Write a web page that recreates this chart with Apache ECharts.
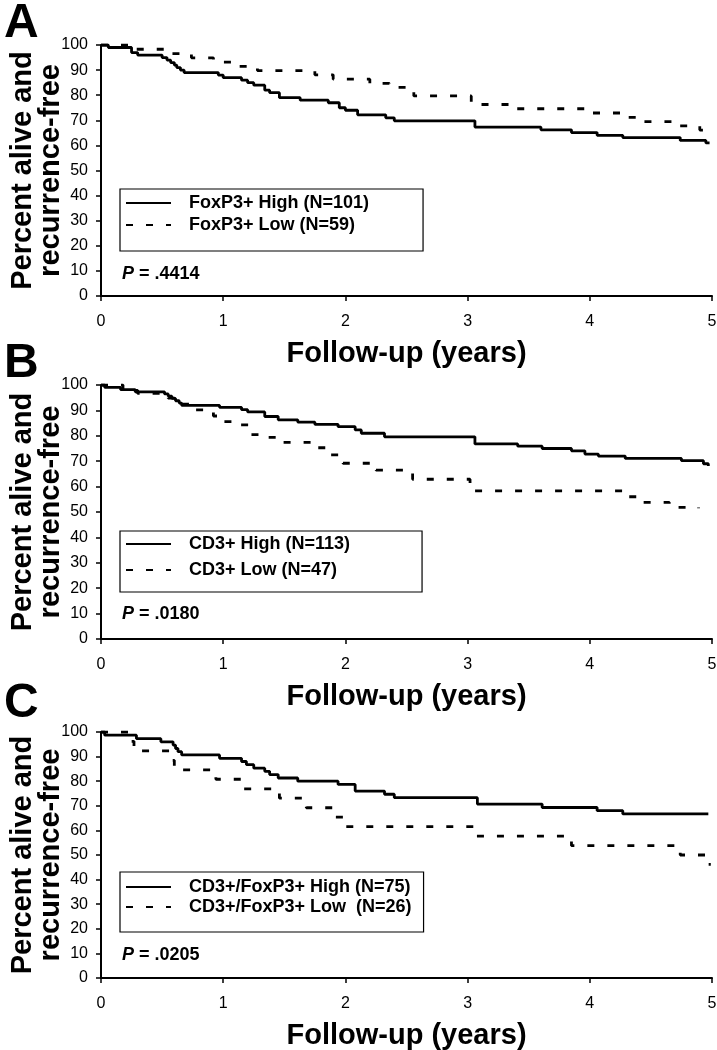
<!DOCTYPE html>
<html><head><meta charset="utf-8">
<script src="https://cdn.jsdelivr.net/npm/echarts@6/dist/echarts.min.js"></script>
<style>html,body{margin:0;padding:0;background:#fff}#c{width:717px;height:1050px}</style>
</head><body><div id="c"></div>
<script>
// ---- Data (years, percent alive and recurrence-free) ----
const xTickLabels = ['0','1','2','3','4','5'];
const yTickLabels = ['0','10','20','30','40','50','60','70','80','90','100'];

const aHighT = [0,0.06,0.25,0.30,0.50,0.54,0.57,0.60,0.62,0.65,0.68,0.96,1.00,1.15,1.20,1.25,1.34,1.38,1.46,1.63,1.86,1.95,2.00,2.10,2.33,2.40,3.06,3.60,3.85,4.06,4.27,4.74,4.95,4.98];
const aHighS = [100,99,97,96,95,94,93,92,91,90,89,88,87,86,85,84,82,81,79,78,77,75,74,72.2,71,69.8,67.3,66.2,65.1,64,63.1,62,61,60.8];
const aLowT  = [0,0.25,0.56,0.74,0.92,1.10,1.28,1.75,1.90,2.20,2.36,2.56,3.03,3.39,3.98,4.29,4.43,4.72,4.90,4.95];
const aLowS  = [100,98.3,96.6,94.9,93.2,91.5,89.8,88.1,86.4,84.7,83.1,79.7,76.3,74.6,72.9,71.2,69.5,67.8,66.1,65.5];

const bHighT = [0,0.03,0.16,0.28,0.52,0.55,0.58,0.61,0.64,0.66,0.97,1.15,1.20,1.34,1.45,1.61,1.75,1.94,2.08,2.13,2.32,3.06,3.41,3.61,3.85,3.96,4.07,4.29,4.75,4.93,4.97];
const bHighS = [100,99.1,98.2,97.3,96.5,95.6,94.7,93.8,92.9,92.0,91.2,90.3,89.4,87.6,86.3,85.4,84.5,83.6,82.3,81.0,79.6,76.8,75.9,75.0,74.1,72.8,72.0,71.1,70.2,69.0,68.1];
const bLowT  = [0,0.18,0.30,0.55,0.63,0.72,0.92,0.98,1.12,1.23,1.30,1.45,1.72,1.87,1.98,2.25,2.55,3.02,4.27,4.42,4.65,4.89];
const bLowS  = [100,97.9,96.7,94.8,92.5,90.2,87.8,85.6,84.3,80.5,79.4,77.4,75.3,72.5,69.2,66.5,62.9,58.3,56.0,53.8,51.8,51.5];

const cHighT = [0,0.03,0.29,0.49,0.59,0.61,0.63,0.66,0.97,1.15,1.19,1.25,1.34,1.38,1.45,1.61,1.94,2.08,2.32,2.40,3.08,3.61,4.06,4.27,4.97];
const cHighS = [100,98.7,97.3,96.0,94.7,93.3,92.0,90.7,89.3,88.0,86.7,85.3,84.0,82.7,81.3,80.0,78.7,76.0,74.7,73.3,70.7,69.3,68.0,66.7,66.7];
const cLowT  = [0,0.24,0.27,0.57,0.60,0.94,1.16,1.46,1.68,1.92,2.00,3.06,3.85,4.74,4.96,4.99];
const cLowS  = [100,96.2,92.3,88.5,84.6,80.8,76.9,73.1,69.2,65.4,61.5,57.7,53.8,50.0,46.2,46.2];

const panelLetters = ['A','B','C'];
const highNames = ['FoxP3+ High (N=101)','CD3+ High (N=113)','CD3+/FoxP3+ High (N=75)'];
const lowNames  = ['FoxP3+ Low (N=59)','CD3+ Low (N=47)','CD3+/FoxP3+ Low  (N=26)'];
const pValues   = ['.4414','.0180','.0205'];
const xTitle = 'Follow-up (years)';
const yTitle = 'Percent alive and\nrecurrence-free';

// ---- Layout ----
const FONT = '"Liberation Sans", Arial, Helvetica, sans-serif';
const grids = [
  {left:101, top:45,  width:611, height:251},
  {left:101, top:385, width:611, height:254},
  {left:101, top:732, width:611, height:246}
];
const letterTops = [0, 340, 680];
const pTops = [265, 605, 946];
const legendCfg = [
  {top:189, pad:[5,54,17,5], gap:4},
  {top:531, pad:[4,72,13,5], gap:8},
  {top:872, pad:[6,12,16,5], gap:2}
];
const highT=[aHighT,bHighT,cHighT], highS=[aHighS,bHighS,cHighS];
const lowT=[aLowT,bLowT,cLowT], lowS=[aLowS,bLowS,cLowS];
const zip=(t,s)=>t.map((v,i)=>[v,s[i]]);

const chart = echarts.init(document.getElementById('c'), null, {renderer:'canvas'});
const option = {
  backgroundColor:'#fff',
  animation:false,
  textStyle:{fontFamily:FONT, color:'#000'},
  grid: grids.map(g=>Object.assign({containLabel:false, outerBoundsMode:'none'}, g)),
  title: [],
  legend: [],
  xAxis: [], yAxis: [], series: []
};
for (let p=0;p<3;p++){
  option.xAxis.push({
    gridIndex:p, type:'value', min:0, max:5, interval:1,
    name:xTitle, nameLocation:'middle', nameGap:43, nameMoveOverlap:false,
    nameTextStyle:{fontSize:29, fontWeight:'bold', color:'#000', fontFamily:FONT},
    axisLine:{show:true, onZero:false, lineStyle:{color:'#000', width:2}},
    axisTick:{show:true, length:5, lineStyle:{color:'#000', width:1.5}},
    axisLabel:{fontSize:16, color:'#000', margin:18, fontFamily:FONT,
      formatter:(v)=>xTickLabels[Math.round(v)]},
    splitLine:{show:false}
  });
  option.yAxis.push({
    gridIndex:p, type:'value', min:0, max:100, interval:10,
    name:yTitle, nameLocation:'middle', nameGap:36, nameRotate:90, nameMoveOverlap:false,
    nameTextStyle:{fontSize:29, fontWeight:'bold', color:'#000', lineHeight:28, fontFamily:FONT},
    axisLine:{show:true, lineStyle:{color:'#000', width:2}},
    axisTick:{show:true, length:5, lineStyle:{color:'#000', width:1.5}},
    axisLabel:{fontSize:16, color:'#000', margin:13, fontFamily:FONT,
      formatter:(v)=>yTickLabels[Math.round(v/10)]},
    splitLine:{show:false}
  });
  option.series.push({
    name:highNames[p], type:'line', xAxisIndex:p, yAxisIndex:p, step:'end',
    symbol:'none', showSymbol:false, data:zip(highT[p],highS[p]),
    lineStyle:{color:'#000', width:2.8, type:'solid'}, itemStyle:{color:'#000'}
  });
  option.series.push({
    name:lowNames[p], type:'line', xAxisIndex:p, yAxisIndex:p, step:'end',
    symbol:'none', showSymbol:false, data:zip(lowT[p],lowS[p]),
    lineStyle:{color:'#000', width:2.8, type:[7,13]}, itemStyle:{color:'#000'}
  });
  const lc = legendCfg[p];
  option.legend.push({
    data:[highNames[p], lowNames[p]], orient:'vertical', left:120, top:lc.top,
    padding:lc.pad, itemGap:lc.gap, itemWidth:45, itemHeight:14,
    borderColor:'#000', borderWidth:1.2, backgroundColor:'#fff',
    selectedMode:false,
    itemStyle:{color:'rgba(0,0,0,0)', borderColor:'rgba(0,0,0,0)', borderWidth:0, opacity:0},
    textStyle:{fontSize:18, fontWeight:'bold', color:'#000', fontFamily:FONT, padding:[0,0,0,13]}
  });
  option.title.push({
    text:panelLetters[p], left:4, top:letterTops[p], padding:0,
    textStyle:{fontSize:48, fontWeight:'bold', color:'#000', fontFamily:FONT}
  });
  option.title.push({
    text:'{i|P} = ' + pValues[p], left:122, top:pTops[p], padding:0,
    textStyle:{fontSize:18, fontWeight:'bold', color:'#000', fontFamily:FONT,
      rich:{i:{fontSize:18, fontWeight:'bold', fontStyle:'italic', color:'#000', fontFamily:FONT}}}
  });
}
chart.setOption(option);
</script></body></html>
